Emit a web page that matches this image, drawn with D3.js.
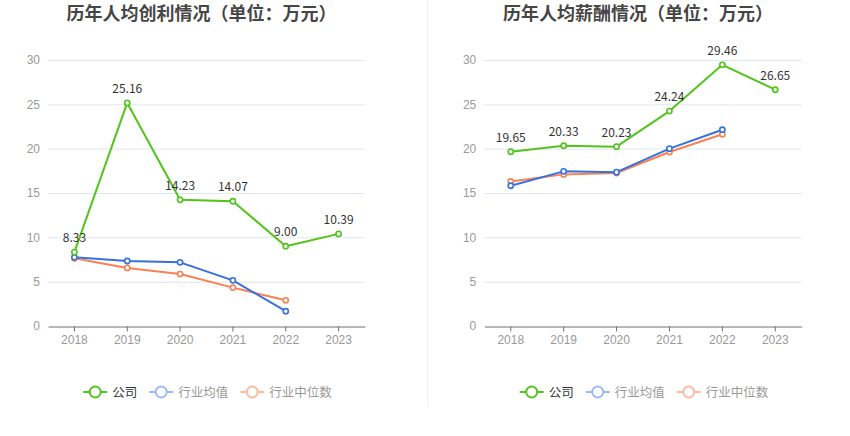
<!DOCTYPE html>
<html><head><meta charset="utf-8">
<script src="https://cdn.jsdelivr.net/npm/d3@7"></script>
<style>body{margin:0;background:#fff;}svg{display:block;font-family:"Noto Sans CJK SC","Noto Sans",sans-serif;}</style>
</head><body>
<svg id="c" width="850" height="436"></svg>
<script>
const years = ["2018","2019","2020","2021","2022","2023"];
const yTicks = [0,5,10,15,20,25,30];
const seriesNames = ["公司","行业均值","行业中位数"];
const titles = ["历年人均创利情况（单位：万元）","历年人均薪酬情况（单位：万元）"];
// 人均创利
const profitCompany = [8.33,25.16,14.23,14.07,9.00,10.39];
const profitIndustryMean = [7.74,7.33,7.18,5.15,1.67,null];
const profitIndustryMedian = [7.64,6.55,5.86,4.33,2.90,null];
// 人均薪酬
const salaryCompany = [19.65,20.33,20.23,24.24,29.46,26.65];
const salaryIndustryMean = [15.82,17.44,17.35,20.00,22.14,null];
const salaryIndustryMedian = [16.30,17.10,17.25,19.62,21.63,null];

const colors = ["#52c41a","#3571e0","#fa8152"];
const legendIcon = ["#52c41a","#9dbbf3","#fbbca3"];
const legendText = ["#333","#999","#999"];

const svg = d3.select("#c");
svg.append("line").attr("x1",427.5).attr("x2",427.5).attr("y1",0).attr("y2",405).attr("stroke","#eeeeee");

function drawPanel(x0, x1, title, data){
  const x = d3.scaleBand().domain(years).range([x0,x1]);
  const y = d3.scaleLinear().domain([0,30]).range([326,60]);
  const g = svg.append("g");
  const cx = (x0+x1)/2;
  g.append("text").attr("x",cx-5).attr("y",20).attr("text-anchor","middle")
    .attr("font-size",18).attr("font-weight","bold").attr("fill","#464646").text(title);
  // grid
  g.selectAll(".grid").data(yTicks.slice(1)).join("line")
    .attr("x1",x0).attr("x2",x1).attr("y1",d=>y(d)+0.5).attr("y2",d=>y(d)+0.5)
    .attr("stroke","#e0e6f1");
  // y axis
  const ya = g.append("g").attr("transform",`translate(${x0},0)`)
    .call(d3.axisLeft(y).tickValues(yTicks).tickSize(0).tickPadding(8));
  ya.select(".domain").remove();
  ya.selectAll("text").attr("fill","#999").attr("font-size",12);
  // x axis
  const xa = g.append("g").attr("transform",`translate(0,${y(0)+0.5})`)
    .call(d3.axisBottom(x).tickSize(5).tickSizeOuter(0).tickPadding(4));
  xa.select(".domain").attr("stroke","#6e7079");
  xa.selectAll("line").attr("stroke","#6e7079");
  xa.selectAll("text").attr("fill","#999").attr("font-size",12);
  const px = d=>x(d)+x.bandwidth()/2;
  const line = d3.line().defined(d=>d.v!=null).x(d=>px(d.k)).y(d=>y(d.v));
  [2,1,0].forEach(i=>{
    const pts = years.map((k,j)=>({k,v:data[i][j]})).filter(d=>d.v!=null);
    g.append("path").datum(pts).attr("d",line).attr("fill","none")
      .attr("stroke",colors[i]).attr("stroke-width",2).attr("stroke-linejoin","round");
    g.selectAll(null).data(pts).join("circle")
      .attr("cx",d=>px(d.k)).attr("cy",d=>y(d.v)).attr("r",2.6)
      .attr("fill","#fff").attr("stroke",colors[i]).attr("stroke-width",1.6);
    if(i===0){
      g.selectAll(null).data(pts).join("text")
        .attr("x",d=>px(d.k)).attr("y",d=>y(d.v)-10).attr("text-anchor","middle")
        .attr("font-size",12).attr("fill","#333").text(d=>d.v.toFixed(2));
    }
  });
  // legend
  const lg = g.append("g");
  let cur = 0;
  seriesNames.forEach((n,i)=>{
    const it = lg.append("g");
    it.append("line").attr("x1",0).attr("x2",24).attr("y1",0).attr("y2",0)
      .attr("stroke",legendIcon[i]).attr("stroke-width",2);
    it.append("circle").attr("cx",12).attr("cy",0).attr("r",5.5)
      .attr("fill","#fff").attr("stroke",legendIcon[i]).attr("stroke-width",2);
    const t = it.append("text").attr("x",29).attr("y",4.5).attr("font-size",12.5)
      .attr("fill",legendText[i]).text(n);
    const w = 29 + t.node().getComputedTextLength();
    it.attr("transform",`translate(${cur},392)`);
    cur += w + 12;
  });
  const total = cur - 12;
  lg.attr("transform",`translate(${cx - total/2 + 1},0)`);
}

drawPanel(48,365,titles[0],[profitCompany,profitIndustryMean,profitIndustryMedian]);
drawPanel(484.3,801.7,titles[1],[salaryCompany,salaryIndustryMean,salaryIndustryMedian]);
</script>
</body></html>
